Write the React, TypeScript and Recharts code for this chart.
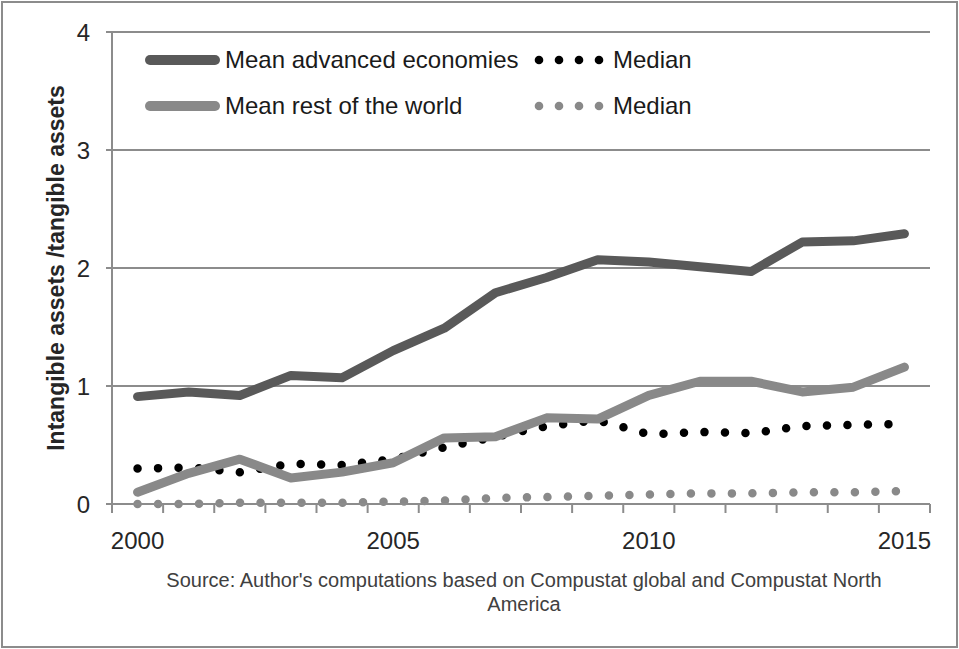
import React from 'react';
import { LineChart, Line, XAxis, YAxis, CartesianGrid, Legend } from 'recharts';

const years = [2000, 2001, 2002, 2003, 2004, 2005, 2006, 2007, 2008, 2009, 2010, 2011, 2012, 2013, 2014, 2015];
const meanAdvanced = [0.91, 0.95, 0.92, 1.09, 1.07, 1.3, 1.49, 1.79, 1.92, 2.07, 2.05, 2.01, 1.97, 2.22, 2.23, 2.29];
const medianAdvanced = [0.3, 0.31, 0.27, 0.34, 0.33, 0.38, 0.48, 0.57, 0.66, 0.71, 0.59, 0.61, 0.6, 0.66, 0.67, 0.68];
const meanRest = [0.1, 0.26, 0.38, 0.22, 0.27, 0.35, 0.56, 0.57, 0.73, 0.72, 0.92, 1.04, 1.04, 0.95, 0.99, 1.16];
const medianRest = [0.0, 0.0, 0.01, 0.01, 0.01, 0.02, 0.03, 0.05, 0.06, 0.07, 0.08, 0.09, 0.09, 0.1, 0.1, 0.11];
const labelYears = [2000, 2005, 2010, 2015];
const yTicks = [0, 1, 2, 3, 4];

const data = years.map((year, i) => ({
  year,
  meanAdv: meanAdvanced[i],
  medAdv: medianAdvanced[i],
  meanRest: meanRest[i],
  medRest: medianRest[i],
}));

// category boundaries (Excel style tick marks) plus the labelled years
const boundaries = [...years.map((y) => y - 0.5), years[years.length - 1] + 0.5];
const xTicks = [...boundaries, ...labelYears].sort((a, b) => a - b);

const FONT = '"Liberation Sans", Arial, sans-serif';
const DARK = '#595959';
const LIGHT = '#898989';
const GRID = '#8c8c8c';
const TEXT = '#262626';

// legend is laid out 2x2 in series order
const legendOrder = ['meanAdv', 'medAdv', 'meanRest', 'medRest'];
const seriesStyle: Record<string, { color: string; dotted: boolean }> = {
  meanAdv: { color: DARK, dotted: false },
  medAdv: { color: '#000000', dotted: true },
  meanRest: { color: LIGHT, dotted: false },
  medRest: { color: LIGHT, dotted: true },
};

const XTick = (props: any) => {
  const { x, y, payload } = props;
  const v = payload.value;
  const isBoundary = Math.abs(v - Math.round(v)) > 0.1;
  if (isBoundary) {
    return <line x1={x} y1={y} x2={x} y2={y + 9} stroke={GRID} strokeWidth={2} />;
  }
  return (
    <text x={x} y={y + 45} textAnchor="middle" fontSize={24} fill={TEXT} fontFamily={FONT}>
      {v}
    </text>
  );
};

const LegendContent = (props: any) => {
  const { payload = [] } = props;
  const items = [...payload].sort(
    (a: any, b: any) => legendOrder.indexOf(a.dataKey) - legendOrder.indexOf(b.dataKey)
  );
  return (
    <div
      style={{
        display: 'grid',
        gridTemplateColumns: '388px auto',
        fontFamily: FONT,
        fontSize: 24,
        color: '#1a1a1a',
      }}
    >
      {items.map((entry: any) => {
        const s = seriesStyle[entry.dataKey];
        return (
          <div key={entry.dataKey} style={{ display: 'flex', alignItems: 'center', height: 46 }}>
            <svg width={80} height={20} style={{ flexShrink: 0 }}>
              {s.dotted ? (
                [6, 26, 46, 66].map((cx) => <circle key={cx} cx={cx} cy={10} r={4.3} fill={s.color} />)
              ) : (
                <line x1={5} y1={10} x2={70} y2={10} stroke={s.color} strokeWidth={10} strokeLinecap="round" />
              )}
            </svg>
            <span style={{ whiteSpace: 'nowrap' }}>{entry.value}</span>
          </div>
        );
      })}
    </div>
  );
};

export default function App() {
  return (
    <div
      style={{
        position: 'absolute',
        left: 0,
        top: 0,
        width: 959,
        height: 649,
        background: '#ffffff',
      }}
    >
      <div
        style={{
          position: 'absolute',
          left: 1,
          top: 1,
          width: 957,
          height: 647,
          boxSizing: 'border-box',
          border: `2px solid ${GRID}`,
        }}
      />
      <LineChart width={959} height={649} data={data} margin={{ top: 32, right: 29, left: 0, bottom: 85 }}>
        <CartesianGrid vertical={false} stroke={GRID} strokeWidth={2} />
        <XAxis
          dataKey="year"
          type="number"
          domain={[boundaries[0], boundaries[boundaries.length - 1]]}
          ticks={xTicks}
          interval={0}
          tick={<XTick />}
          tickLine={false}
          tickSize={0}
          tickMargin={0}
          axisLine={{ stroke: GRID, strokeWidth: 2 }}
          height={60}
          allowDataOverflow
        />
        <YAxis
          domain={[0, 4]}
          ticks={yTicks}
          width={112}
          tickSize={6}
          tickMargin={16}
          axisLine={{ stroke: GRID, strokeWidth: 2 }}
          tickLine={{ stroke: GRID, strokeWidth: 2 }}
          tick={{ fontSize: 24, fill: TEXT, fontFamily: FONT }}
          label={{
            value: 'Intangible assets /tangible assets',
            angle: -90,
            position: 'center',
            style: { fontSize: 23, fontWeight: 'bold', fill: TEXT, fontFamily: FONT },
          }}
        />
        <Legend
          layout="horizontal"
          verticalAlign="middle"
          align="center"
          content={<LegendContent />}
          wrapperStyle={{ left: 145, top: 37, width: 620, height: 92 }}
        />
        <Line
          name="Mean advanced economies"
          dataKey="meanAdv"
          stroke={DARK}
          strokeWidth={9}
          strokeLinecap="round"
          strokeLinejoin="round"
          dot={false}
          activeDot={false}
          isAnimationActive={false}
        />
        <Line
          name="Median"
          dataKey="medAdv"
          stroke="#000000"
          strokeWidth={8.5}
          strokeDasharray="0 20.5"
          strokeLinecap="round"
          dot={false}
          activeDot={false}
          isAnimationActive={false}
        />
        <Line
          name="Mean rest of the world"
          dataKey="meanRest"
          stroke={LIGHT}
          strokeWidth={9}
          strokeLinecap="round"
          strokeLinejoin="round"
          dot={false}
          activeDot={false}
          isAnimationActive={false}
        />
        <Line
          name="Median"
          dataKey="medRest"
          stroke={LIGHT}
          strokeWidth={8.5}
          strokeDasharray="0 20.5"
          strokeLinecap="round"
          dot={false}
          activeDot={false}
          isAnimationActive={false}
        />
      </LineChart>
      <div
        style={{
          position: 'absolute',
          left: 124,
          top: 568,
          width: 800,
          textAlign: 'center',
          fontFamily: FONT,
          fontSize: 20,
          lineHeight: '24px',
          color: '#404040',
        }}
      >
        Source: Author's computations based on Compustat global and Compustat North
        <br />
        America
      </div>
    </div>
  );
}
